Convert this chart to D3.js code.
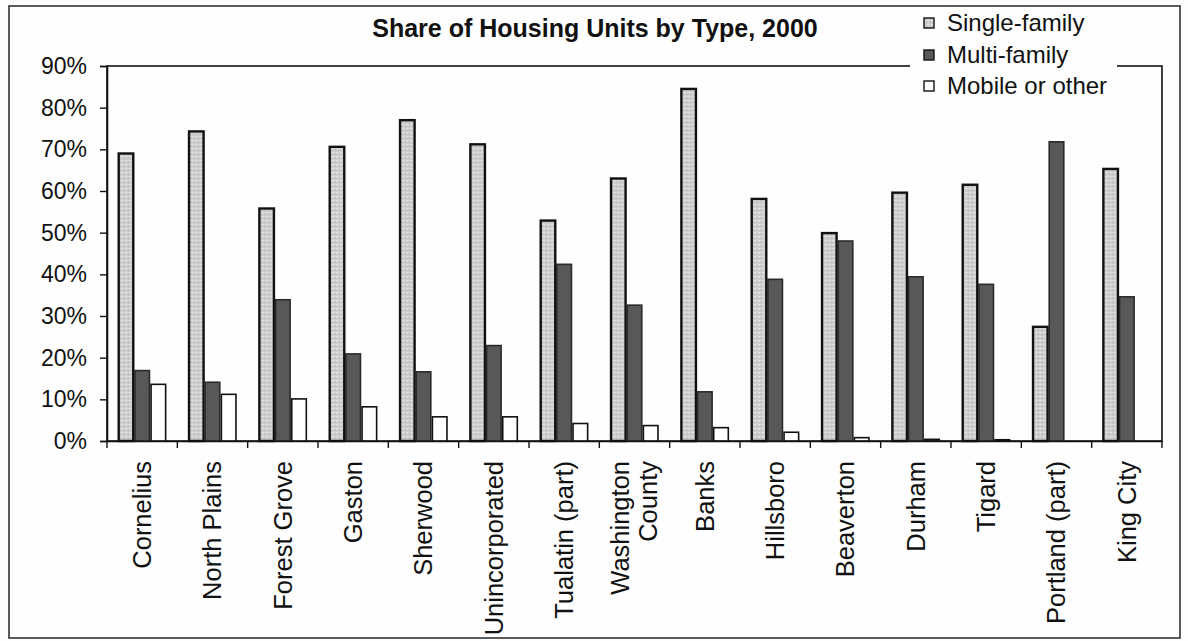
<!DOCTYPE html>
<html>
<head>
<meta charset="utf-8">
<script src="https://cdn.jsdelivr.net/npm/d3@7"></script>
<style>
html,body{margin:0;padding:0;background:#fdfdfd;}
svg{display:block;}
text{font-family:Arial,"Liberation Sans",sans-serif;fill:#111;}
</style>
</head>
<body>
<svg id="chart" width="1188" height="641"></svg>
<script>
const categories = ["Cornelius","North Plains","Forest Grove","Gaston","Sherwood","Unincorporated","Tualatin (part)","Washington County","Banks","Hillsboro","Beaverton","Durham","Tigard","Portland (part)","King City"];
const seriesNames = ["Single-family","Multi-family","Mobile or other"];
const singleFamily = [69.0, 74.3, 55.8, 70.6, 77.0, 71.2, 52.9, 63.0, 84.5, 58.1, 49.9, 59.6, 61.5, 27.4, 65.3];
const multiFamily  = [16.9, 14.1, 33.9, 20.9, 16.6, 22.9, 42.4, 32.6, 11.8, 38.8, 48.0, 39.4, 37.6, 71.8, 34.6];
const mobileOther  = [13.6, 11.2, 10.1, 8.2, 5.8, 5.8, 4.2, 3.7, 3.2, 2.1, 0.8, 0.4, 0.3, 0.0, 0.0];
const yTicks = [0, 10, 20, 30, 40, 50, 60, 70, 80, 90];
const titleText = "Share of Housing Units by Type, 2000";

const series = [singleFamily, multiFamily, mobileOther];
const svg = d3.select("#chart");

const pLeft = 107, pRight = 1162, pTop = 66, pBottom = 441;

// outer frame
svg.append("rect").attr("x",9).attr("y",6).attr("width",1171).attr("height",632)
  .attr("fill","#fefefe").attr("stroke","#333").attr("stroke-width",1.6);

// pattern for single-family
const defs = svg.append("defs");
const pat = defs.append("pattern").attr("id","stip").attr("patternUnits","userSpaceOnUse")
  .attr("width",4).attr("height",4);
pat.append("rect").attr("width",4).attr("height",4).attr("fill","#cdcdcd");
pat.append("rect").attr("x",0).attr("y",0).attr("width",1).attr("height",1).attr("fill","#ececec");
pat.append("rect").attr("x",2).attr("y",2).attr("width",1).attr("height",1).attr("fill","#b0b0b0");
pat.append("rect").attr("x",3).attr("y",0).attr("width",1).attr("height",1).attr("fill","#e2e2e2");

const fills = ["url(#stip)", "#585858", "#ffffff"];
const strokes = ["#111", "#2a2a2a", "#111"];

const x0 = d3.scaleBand().domain(categories).range([pLeft, pRight]).paddingInner(0.31).paddingOuter(0.155);
const x1 = d3.scaleBand().domain(d3.range(3)).range([0, x0.bandwidth()]);
const y = d3.scaleLinear().domain([0, 90]).range([pBottom, pTop]);

// plot area border
svg.append("rect").attr("x",pLeft).attr("y",pTop).attr("width",pRight-pLeft).attr("height",pBottom-pTop)
  .attr("fill","none").attr("stroke","#111").attr("stroke-width",1.6);

// bars
const groups = svg.append("g").selectAll("g").data(categories).join("g")
  .attr("transform", d => `translate(${x0(d)},0)`);
groups.selectAll("rect").data((d,i) => series.map((s,k) => ({k, v: s[i]})).filter(e => e.v > 0))
  .join("rect")
  .attr("x", d => x1(d.k) + 0.8)
  .attr("width", x1.bandwidth() - 1.6)
  .attr("y", d => y(d.v))
  .attr("height", d => y(0) - y(d.v))
  .attr("fill", d => fills[d.k])
  .attr("stroke", d => strokes[d.k])
  .attr("stroke-width", d => d.k === 0 ? 2.4 : 1.6);

// y axis
const yAxis = d3.axisLeft(y).tickValues(yTicks).tickFormat(d => d + "%").tickSize(7).tickPadding(13);
const gy = svg.append("g").attr("transform", `translate(${pLeft},0)`).call(yAxis);
gy.select(".domain").attr("stroke","#111").attr("stroke-width",1.6);
gy.selectAll(".tick line").attr("stroke","#111").attr("stroke-width",1.4);
gy.selectAll(".tick text").attr("font-size",23).attr("font-family","Arial, 'Liberation Sans', sans-serif").attr("fill","#111");

// x axis line + boundary ticks
const gx = svg.append("g").attr("transform", `translate(0,${pBottom})`).call(d3.axisBottom(x0).tickSize(0).tickFormat(""));
gx.select(".domain").attr("stroke","#111").attr("stroke-width",1.6);
const step = x0.step();
const bounds = categories.map(c => x0(c) - (step - x0.bandwidth())/2).concat([pRight]);
svg.append("g").selectAll("line").data(bounds).join("line")
  .attr("x1", d => d).attr("x2", d => d).attr("y1", pBottom).attr("y2", pBottom + 7)
  .attr("stroke","#111").attr("stroke-width",1.4);

// x labels
const labelLines = c => c === "Washington County" ? ["Washington","County"] : [c];
svg.append("g").selectAll("g").data(categories).join("g")
  .attr("transform", d => `translate(${x0(d) + x0.bandwidth()/2},461) rotate(-90)`)
  .each(function(d){
    const lines = labelLines(d);
    const g = d3.select(this);
    lines.forEach((ln, i) => {
      g.append("text").attr("text-anchor","end").attr("font-size",25.5)
        .attr("x",0).attr("y", (i - (lines.length-1)/2) * 28).attr("dy","0.35em").text(ln);
    });
  });

// title
svg.append("text").attr("x",595).attr("y",37).attr("text-anchor","middle")
  .attr("font-size",25).attr("font-weight","bold").text(titleText);

// legend
const lg = svg.append("g");
lg.append("rect").attr("x",910).attr("y",9).attr("width",207).attr("height",92).attr("fill","#fefefe");
const legendY = [23, 55, 86];
seriesNames.forEach((name, k) => {
  lg.append("rect").attr("x",924).attr("y",legendY[k]-5).attr("width",10).attr("height",10)
    .attr("fill", fills[k]).attr("stroke","#111").attr("stroke-width",1.4);
  lg.append("text").attr("x",947).attr("y",legendY[k]).attr("dy","0.35em")
    .attr("font-size",24).text(name);
});
</script>
</body>
</html>
